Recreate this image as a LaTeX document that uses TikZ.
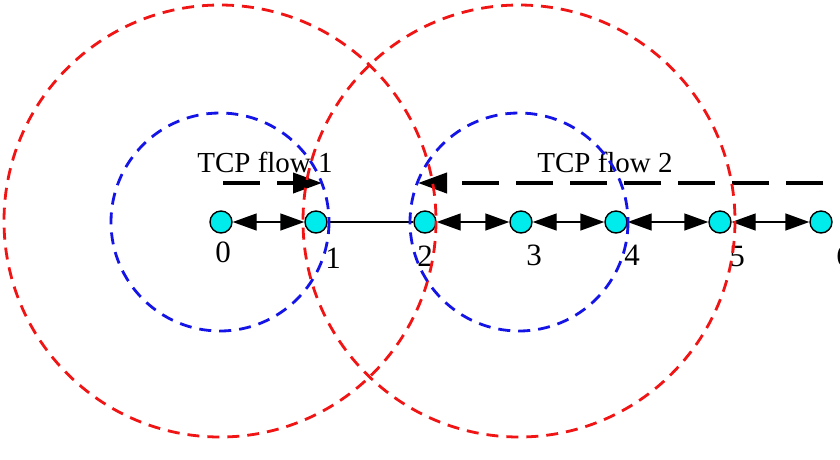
\documentclass[tikz,border=0pt]{standalone}
\usepackage{fontspec}
\setmainfont{Liberation Serif}
\usetikzlibrary{arrows.meta}
\definecolor{nodecyan}{RGB}{0,235,235}
\definecolor{rangered}{RGB}{240,20,20}
\definecolor{rangeblue}{RGB}{20,20,230}
\tikzset{
  station/.style={circle,draw=black,line width=1.4pt,fill=nodecyan,minimum size=22pt,inner sep=0pt},
  link/.style={line width=1.4pt,black},
  duplex/.style={link,{Triangle[length=24pt,width=17pt]}-{Triangle[length=24pt,width=17pt]}},
  flowarrow/.style={line width=4pt,black,dash pattern=on 37pt off 17pt,-{Triangle[length=29pt,width=20pt]}},
  farrange/.style={rangered,line width=2.8pt,dash pattern=on 12pt off 8pt},
  nearrange/.style={rangeblue,line width=2.8pt,dash pattern=on 12pt off 8pt},
  flowlabel/.style={font=\fontsize{29}{32}\selectfont,anchor=base,inner sep=0pt},
  idlabel/.style={font=\fontsize{31}{34}\selectfont,anchor=base,inner sep=0pt}
}
\begin{document}
\begin{tikzpicture}[x=1pt,y=-1pt]
\useasboundingbox (0,0) rectangle (840,459);
% stations
\node[station] (n0) at (221,222) {};
\node[station] (n1) at (316,222) {};
\node[station] (n2) at (425,222) {};
\node[station] (n3) at (521,222) {};
\node[station] (n4) at (616,222) {};
\node[station] (n5) at (720,222) {};
\node[station] (n6) at (821,222) {};
% links
\draw[duplex] (n0) -- (n1);
\draw[link] (n1) -- (n2);
\draw[duplex] (n2) -- (n3);
\draw[duplex] (n3) -- (n4);
\draw[duplex] (n4) -- (n5);
\draw[duplex] (n5) -- (n6);
% flows
\coordinate (f1s) at (223,183);
\coordinate (f1e) at (322,183);
\coordinate (f2s) at (823,183);
\coordinate (f2e) at (418,183);
\draw[flowarrow] (f1s) -- (f1e);
\draw[flowarrow] (f2s) -- (f2e);
\node[flowlabel] (t1) at (265,172) {TCP flow 1};
\node[flowlabel] (t2) at (605,172) {TCP flow 2};
% station ids
\node[idlabel] (l0) at (223,262) {0};
\node[idlabel] (l1) at (333,268) {1};
\node[idlabel] (l2) at (425,266) {2};
\node[idlabel] (l3) at (534,265) {3};
\node[idlabel] (l4) at (632,265) {4};
\node[idlabel] (l5) at (737,266) {5};
\node[idlabel] (l6) at (844,266) {6};
% ranges
\draw[farrange] (220,221) circle[radius=216];
\draw[farrange] (519,221) circle[radius=216];
\draw[nearrange] (220,222) circle[radius=109];
\draw[nearrange] (519,222) circle[radius=109];
\end{tikzpicture}
\end{document}
